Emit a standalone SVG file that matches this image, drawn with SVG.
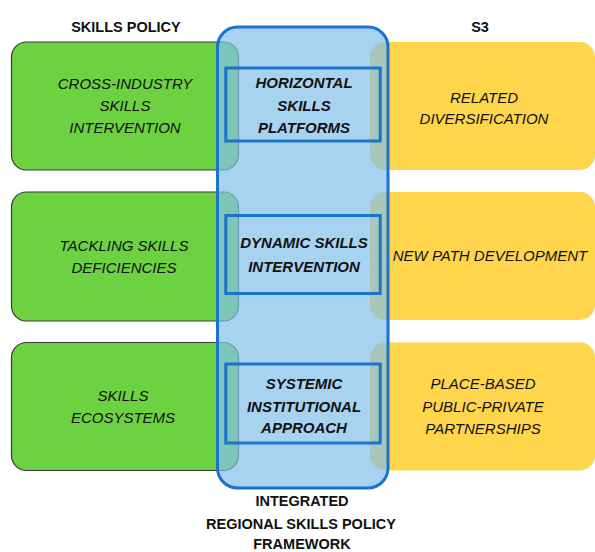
<svg xmlns="http://www.w3.org/2000/svg" width="595" height="552" viewBox="0 0 595 552">
<style>
  .green { fill: #6cd242; stroke: #3a3a3a; stroke-width: 1.2; }
  .yellow { fill: #ffd54c; stroke: none; }
  .frame { fill: #83c0ea; fill-opacity: 0.7; stroke: #1a73cc; stroke-width: 3; }
  .inner { fill: none; stroke: #1a73cc; stroke-width: 3; }
  text { font-family: "Liberation Sans", Arial, sans-serif; fill: #111; text-anchor: middle; }
  .it { font-size: 15px; font-style: italic; }
  .bi { font-size: 15px; font-style: italic; font-weight: bold; }
  .hd { font-size: 14.5px; font-weight: bold; }
</style>
<rect width="595" height="552" fill="#ffffff"/>

<g id="header-skills-policy"><text class="hd" x="126" y="32">SKILLS POLICY</text></g>
<g id="header-s3"><text class="hd" x="480" y="32">S3</text></g>

<g id="cross-industry">
  <rect class="green" x="11.5" y="42" width="227" height="128" rx="15"/>
  <text class="it" x="125" y="89">CROSS-INDUSTRY</text>
  <text class="it" x="125" y="111">SKILLS</text>
  <text class="it" x="125" y="133">INTERVENTION</text>
</g>
<g id="tackling">
  <rect class="green" x="11.5" y="192" width="227" height="129" rx="15"/>
  <text class="it" x="124" y="251">TACKLING SKILLS</text>
  <text class="it" x="124" y="273">DEFICIENCIES</text>
</g>
<g id="ecosystems">
  <rect class="green" x="11.5" y="342.5" width="227" height="128" rx="15"/>
  <text class="it" x="123" y="401">SKILLS</text>
  <text class="it" x="123" y="423">ECOSYSTEMS</text>
</g>

<g id="related">
  <rect class="yellow" x="370" y="42" width="225" height="128" rx="15"/>
  <text class="it" x="484" y="103">RELATED</text>
  <text class="it" x="484" y="124">DIVERSIFICATION</text>
</g>
<g id="new-path">
  <rect class="yellow" x="370" y="192" width="225" height="128" rx="15"/>
  <text class="it" x="490" y="261">NEW PATH DEVELOPMENT</text>
</g>
<g id="place-based">
  <rect class="yellow" x="370" y="342.5" width="225" height="128" rx="15"/>
  <text class="it" x="483" y="389">PLACE-BASED</text>
  <text class="it" x="483" y="412">PUBLIC-PRIVATE</text>
  <text class="it" x="483" y="434">PARTNERSHIPS</text>
</g>

<g id="framework">
  <rect class="frame" x="217.5" y="27" width="170.5" height="461" rx="20"/>
  <text class="hd" x="302" y="506">INTEGRATED</text>
  <text class="hd" x="301" y="528.5">REGIONAL SKILLS POLICY</text>
  <text class="hd" x="302" y="549">FRAMEWORK</text>
</g>

<g id="horizontal">
  <rect class="inner" x="225.8" y="68" width="154.4" height="73"/>
  <text class="bi" x="304" y="88">HORIZONTAL</text>
  <text class="bi" x="304" y="111">SKILLS</text>
  <text class="bi" x="304" y="133">PLATFORMS</text>
</g>
<g id="dynamic">
  <rect class="inner" x="225.8" y="215.5" width="154.4" height="78"/>
  <text class="bi" x="304" y="248">DYNAMIC SKILLS</text>
  <text class="bi" x="304" y="271.5">INTERVENTION</text>
</g>
<g id="systemic">
  <rect class="inner" x="225.8" y="364" width="154.4" height="79"/>
  <text class="bi" x="304" y="389">SYSTEMIC</text>
  <text class="bi" x="304" y="411.5">INSTITUTIONAL</text>
  <text class="bi" x="304" y="433">APPROACH</text>
</g>

<g id="connectors"></g>
</svg>
